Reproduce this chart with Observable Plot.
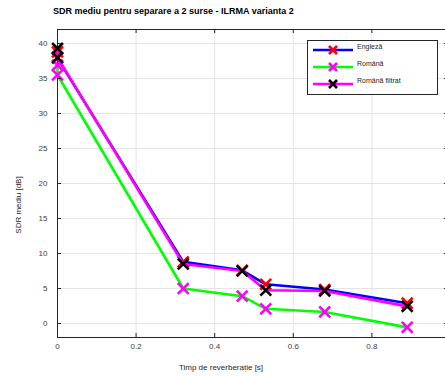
<!DOCTYPE html>
<html><head><meta charset="utf-8">
<script src="https://cdn.jsdelivr.net/npm/d3@7"></script>
<script src="https://cdn.jsdelivr.net/npm/@observablehq/plot@0.6"></script>
<style>
body{margin:0;background:#fff;font-family:"Liberation Sans",Arial,Helvetica,sans-serif;}
#wrap{position:relative;width:445px;height:376px;overflow:hidden;background:#fff;}
#wrap svg.chart{position:absolute;left:0;top:0;}
#title{position:absolute;left:53px;top:6px;font-size:9px;font-weight:bold;color:#000;white-space:nowrap;}
#xlabel{position:absolute;left:221px;top:363px;transform:translateX(-50%);font-size:8px;color:#262626;white-space:nowrap;}
#ylabel{position:absolute;left:18px;top:205px;transform:translate(-50%,-50%) rotate(-90deg);font-size:8px;color:#262626;white-space:nowrap;}
#legend{position:absolute;left:307px;top:40px;}
</style>
</head><body>
<div id="wrap">
  <div id="title">SDR mediu pentru separare a 2 surse - ILRMA varianta 2</div>
  <div id="xlabel">Timp de reverberație [s]</div>
  <div id="ylabel">SDR mediu [dB]</div>
  <div id="legend"></div>
</div>
<script>
// ---- data ----
const reverbTimes = [0, 0, 0.32, 0.47, 0.53, 0.68, 0.89];
const englezaSDR  = [38.8, 37.9, 8.8, 7.6, 5.6, 4.85, 2.9];
const romanaSDR   = [36.9, 35.5, 5.0, 3.9, 2.1, 1.65, -0.55];
const romanaFiltratSDR = [39.3, 38.0, 8.5, 7.5, 4.75, 4.65, 2.45];
const seriesNames = ["Engleză", "Română", "Română filtrat"];
const xTicks = [0, 0.2, 0.4, 0.6, 0.8];
const yTicks = [0, 5, 10, 15, 20, 25, 30, 35, 40];

const lineColors = ["#0000ff", "#00ff00", "#ff00ff"];
const markColors = ["#ff0000", "#ff00ff", "#000000"];
const seriesValues = [englezaSDR, romanaSDR, romanaFiltratSDR];

const W = 445, H = 376;
const xDomain = [0, 0.995], xRange = [57, 448];
const yDomain = [-2, 42], yRange = [337, 29];
const kx = (xRange[1] - xRange[0]) / (xDomain[1] - xDomain[0]);
const ky = (yRange[0] - yRange[1]) / (yDomain[1] - yDomain[0]);
const tickLen = 4;
const axisColor = "#262626";

const marks = [];
marks.push(Plot.ruleY(yTicks, {stroke: "#e4e4e4", strokeWidth: 1}));
marks.push(Plot.ruleX(xTicks.filter(d => d > 0), {stroke: "#e4e4e4", strokeWidth: 1}));
// box lines
marks.push(Plot.ruleX(xDomain, {stroke: axisColor, strokeWidth: 1}));
marks.push(Plot.ruleY(yDomain, {stroke: axisColor, strokeWidth: 1}));
seriesValues.forEach((vals, i) => {
  const data = reverbTimes.map((t, j) => ({t, v: vals[j]}));
  marks.push(Plot.line(data, {x: "t", y: "v", stroke: lineColors[i], strokeWidth: 2.6, curve: "linear"}));
  marks.push(Plot.dot(data, {x: "t", y: "v", symbol: "times", r: 5, stroke: markColors[i], strokeWidth: 2.6}));
});
// inward ticks
marks.push(Plot.ruleX(xTicks, {y1: yDomain[0], y2: yDomain[0] + tickLen / ky, stroke: axisColor}));
marks.push(Plot.ruleX(xTicks, {y1: yDomain[1], y2: yDomain[1] - tickLen / ky, stroke: axisColor}));
marks.push(Plot.ruleY(yTicks, {x1: xDomain[0], x2: xDomain[0] + tickLen / kx, stroke: axisColor}));
marks.push(Plot.ruleY(yTicks, {x1: xDomain[1], x2: xDomain[1] - tickLen / kx, stroke: axisColor}));
marks.push(Plot.axisX(xTicks, {anchor: "bottom", tickSize: 0, tickPadding: 6, fontSize: 8, fill: "#404040", label: null, tickFormat: d => String(d)}));
marks.push(Plot.axisY(yTicks, {anchor: "left", tickSize: 0, tickPadding: 10, fontSize: 8, fill: "#404040", label: null, tickFormat: d => String(d)}));

const chart = Plot.plot({
  width: W, height: H,
  marginLeft: 57, marginRight: 0, marginTop: 29, marginBottom: H - 337,
  x: {domain: xDomain, range: xRange},
  y: {domain: yDomain, range: yRange},
  style: {fontFamily: "'Liberation Sans', Arial, Helvetica, sans-serif", background: "transparent", overflow: "visible"},
  marks
});
chart.classList.add("chart");
document.getElementById("wrap").prepend(chart);

// legend
const lg = d3.select("#legend").append("svg").attr("width", 132).attr("height", 56);
lg.append("rect").attr("x", 0.5).attr("y", 0.5).attr("width", 130).attr("height", 54)
  .attr("fill", "#fff").attr("stroke", "#262626").attr("stroke-width", 1);
seriesNames.forEach((name, i) => {
  const y = 10 + i * 17;
  lg.append("line").attr("x1", 6).attr("x2", 46).attr("y1", y).attr("y2", y)
    .attr("stroke", lineColors[i]).attr("stroke-width", 2.6);
  const s = 4;
  lg.append("path").attr("d", `M${26 - s},${y - s}L${26 + s},${y + s}M${26 - s},${y + s}L${26 + s},${y - s}`)
    .attr("stroke", markColors[i]).attr("stroke-width", 2.6).attr("fill", "none");
  lg.append("text").attr("x", 50).attr("y", y - 1).attr("font-size", 7).attr("fill", "#262626")
    .attr("font-family", "'Liberation Sans', Arial, sans-serif").text(name);
});
</script>
</body></html>
